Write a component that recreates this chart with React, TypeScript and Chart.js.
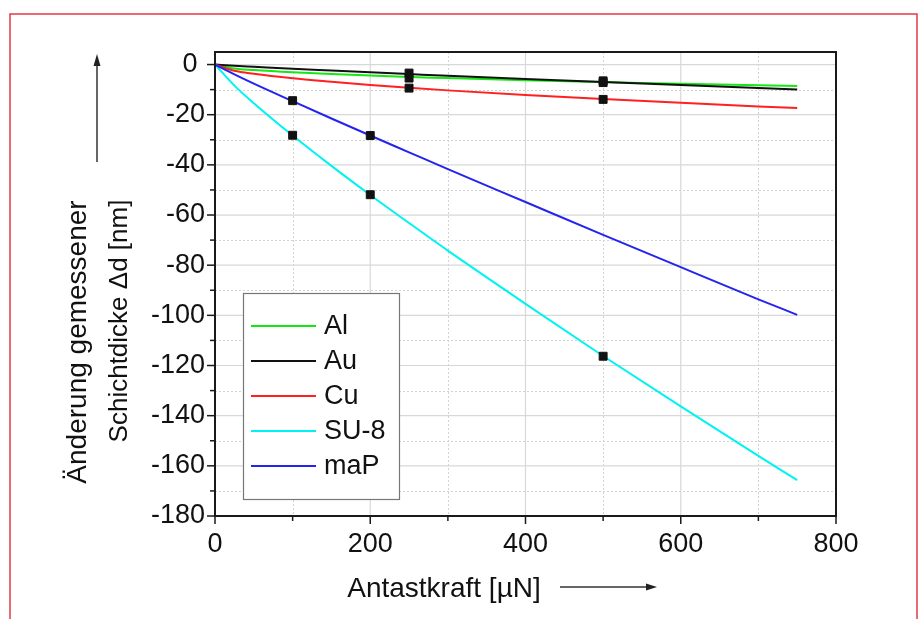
import React, { useEffect, useRef } from "react";
import { Chart, registerables } from "chart.js";

Chart.register(...registerables);

// ---- data ----
const fitForce = [0, 25, 50, 100, 150, 200, 250, 300, 400, 500, 600, 700, 750];
const alValues = [0, -1.6, -2.2, -3.1, -3.8, -4.4, -5.0, -5.4, -6.3, -7.0, -7.7, -8.3, -8.6];
const auValues = [0, -0.5, -0.9, -1.7, -2.4, -3.1, -3.8, -4.5, -5.8, -7.0, -8.2, -9.4, -10.0];
const cuValues = [0, -2.5, -3.7, -5.5, -6.9, -8.2, -9.3, -10.3, -12.1, -13.7, -15.2, -16.7, -17.3];
const su8Values = [0, -8.4, -15.4, -28.3, -40.4, -52.0, -63.2, -74.2, -95.4, -116.2, -136.3, -156.0, -165.7];
const mapValues = [0, -3.9, -7.6, -14.6, -21.5, -28.3, -35.0, -41.7, -54.8, -67.9, -80.8, -93.6, -99.8];

const measuredForce = [100, 100, 200, 200, 250, 250, 250, 500, 500, 500, 500];
const measuredDelta = [-14.4, -28.2, -28.3, -51.9, -3.4, -5.4, -9.4, -6.5, -7.2, -13.9, -116.3];

const seriesNames = ["Al", "Au", "Cu", "SU-8", "maP"];
const seriesValues = [alValues, auValues, cuValues, su8Values, mapValues];
const seriesColors = ["#12e812", "#111111", "#ff2020", "#00f2f2", "#2424ee"];

const xTicks = [0, 200, 400, 600, 800];
const yTicks = [0, -20, -40, -60, -80, -100, -120, -140, -160, -180];

const xTitle = "Antastkraft [µN]";
const yTitleLine1 = "Änderung gemessener";
const yTitleLine2 = "Schichtdicke Δd [nm]";

const FONT = "'Liberation Sans', Arial, Helvetica, sans-serif";

const decorPlugin = {
  id: "decor",
  beforeDraw(chart: any) {
    const ctx = chart.ctx;
    ctx.save();
    ctx.strokeStyle = "#e23a46";
    ctx.lineWidth = 1.5;
    ctx.strokeRect(10, 14, 907, 700);
    ctx.restore();
  },
  beforeDatasetsDraw(chart: any) {
    const ctx = chart.ctx;
    const { left, right, top, bottom } = chart.chartArea;
    const xs = chart.scales.x;
    const ys = chart.scales.y;
    const xv = xs.ticks.map((t: any) => t.value);
    const yv = ys.ticks.map((t: any) => t.value).sort((a: number, b: number) => a - b);
    ctx.save();
    // minor (dotted)
    ctx.strokeStyle = "#d2d2d2";
    ctx.lineWidth = 1;
    ctx.setLineDash([2, 2]);
    for (let i = 0; i < xv.length - 1; i++) {
      const p = Math.round(xs.getPixelForValue((xv[i] + xv[i + 1]) / 2)) + 0.5;
      ctx.beginPath(); ctx.moveTo(p, top); ctx.lineTo(p, bottom); ctx.stroke();
    }
    for (let i = 0; i < yv.length - 1; i++) {
      const p = Math.round(ys.getPixelForValue((yv[i] + yv[i + 1]) / 2)) + 0.5;
      ctx.beginPath(); ctx.moveTo(left, p); ctx.lineTo(right, p); ctx.stroke();
    }
    // major (solid)
    ctx.setLineDash([]);
    ctx.strokeStyle = "#d8d8d8";
    ctx.lineWidth = 1.2;
    xv.forEach((v: number) => {
      const p = xs.getPixelForValue(v);
      if (p <= left + 1 || p >= right - 1) return;
      ctx.beginPath(); ctx.moveTo(p, top); ctx.lineTo(p, bottom); ctx.stroke();
    });
    yv.forEach((v: number) => {
      const p = ys.getPixelForValue(v);
      if (p <= top + 1 || p >= bottom - 1) return;
      ctx.beginPath(); ctx.moveTo(left, p); ctx.lineTo(right, p); ctx.stroke();
    });
    ctx.restore();
  },
  afterDatasetsDraw(chart: any) {
    const ctx = chart.ctx;
    const { left, right, top, bottom } = chart.chartArea;
    const xs = chart.scales.x;
    const ys = chart.scales.y;
    const xv = xs.ticks.map((t: any) => t.value);
    const yv = ys.ticks.map((t: any) => t.value).sort((a: number, b: number) => a - b);
    ctx.save();
    // frame
    ctx.strokeStyle = "#1a1a1a";
    ctx.lineWidth = 2;
    ctx.strokeRect(left, top, right - left, bottom - top);
    // ticks
    ctx.lineWidth = 1.5;
    xv.forEach((v: number, i: number) => {
      const p = xs.getPixelForValue(v);
      ctx.beginPath(); ctx.moveTo(p, bottom); ctx.lineTo(p, bottom + 8); ctx.stroke();
      if (i < xv.length - 1) {
        const m = xs.getPixelForValue((v + xv[i + 1]) / 2);
        ctx.beginPath(); ctx.moveTo(m, bottom); ctx.lineTo(m, bottom + 5); ctx.stroke();
      }
    });
    yv.forEach((v: number, i: number) => {
      const p = ys.getPixelForValue(v);
      ctx.beginPath(); ctx.moveTo(left, p); ctx.lineTo(left - 8, p); ctx.stroke();
      if (i < yv.length - 1) {
        const m = ys.getPixelForValue((v + yv[i + 1]) / 2);
        ctx.beginPath(); ctx.moveTo(left, m); ctx.lineTo(left - 5, m); ctx.stroke();
      }
    });

    // legend
    const lx = 243, ly = 293, lw = 156, lh = 206;
    ctx.fillStyle = "#ffffff";
    ctx.fillRect(lx, ly, lw, lh);
    ctx.strokeStyle = "#777777";
    ctx.lineWidth = 1.2;
    ctx.strokeRect(lx + 0.5, ly + 0.5, lw, lh);
    const lineDs = chart.data.datasets.filter((d: any) => d.type === "line");
    ctx.font = `27px ${FONT}`;
    ctx.textBaseline = "middle";
    ctx.textAlign = "left";
    lineDs.forEach((d: any, i: number) => {
      const y = 326 + i * 35;
      ctx.strokeStyle = d.borderColor;
      ctx.lineWidth = 2.2;
      ctx.beginPath(); ctx.moveTo(251, y); ctx.lineTo(316, y); ctx.stroke();
      ctx.fillStyle = "#111";
      ctx.fillText(d.label, 324, y + 1);
    });
    ctx.restore();
  },
  afterDraw(chart: any) {
    const ctx = chart.ctx;
    ctx.save();
    ctx.fillStyle = "#111";
    ctx.font = `28px ${FONT}`;
    ctx.textBaseline = "alphabetic";
    ctx.textAlign = "center";
    // x title
    ctx.fillText(xTitle, 444, 597);
    // y title (two lines, rotated)
    ctx.save();
    ctx.translate(86, 342);
    ctx.rotate(-Math.PI / 2);
    ctx.fillText(yTitleLine1, 0, 0);
    ctx.restore();
    ctx.save();
    ctx.font = `26px ${FONT}`;
    ctx.translate(127, 321);
    ctx.rotate(-Math.PI / 2);
    ctx.fillText(yTitleLine2, 0, 0);
    ctx.restore();

    // arrows
    ctx.strokeStyle = "#333";
    ctx.fillStyle = "#222";
    ctx.lineWidth = 1.5;
    // x arrow
    ctx.beginPath(); ctx.moveTo(560, 587); ctx.lineTo(648, 587); ctx.stroke();
    ctx.beginPath(); ctx.moveTo(657, 587); ctx.lineTo(646, 583.5); ctx.lineTo(646, 590.5); ctx.closePath(); ctx.fill();
    // y arrow
    ctx.beginPath(); ctx.moveTo(97, 162); ctx.lineTo(97, 64); ctx.stroke();
    ctx.beginPath(); ctx.moveTo(97, 54); ctx.lineTo(93.5, 66); ctx.lineTo(100.5, 66); ctx.closePath(); ctx.fill();
    ctx.restore();
  },
};

export default function App() {
  const canvasRef = useRef<HTMLCanvasElement | null>(null);

  useEffect(() => {
    if (!canvasRef.current) return;
    const datasets: any[] = seriesNames.map((name, i) => ({
      type: "line",
      label: name,
      order: 5 - i,
      data: fitForce.map((x, j) => ({ x, y: seriesValues[i][j] })),
      borderColor: seriesColors[i],
      backgroundColor: seriesColors[i],
      borderWidth: 2,
      pointRadius: 0,
      cubicInterpolationMode: "monotone",
      fill: false,
    }));
    datasets.push({
      type: "scatter",
      label: "Messwerte",
      order: -1,
      data: measuredForce.map((x, j) => ({ x, y: measuredDelta[j] })),
      pointStyle: "rect",
      pointRadius: 5.6,
      pointBackgroundColor: "#111",
      pointBorderColor: "#111",
      pointBorderWidth: 1,
      showLine: false,
    });

    const chart = new Chart(canvasRef.current, {
      type: "scatter",
      data: { datasets },
      options: {
        animation: false,
        responsive: false,
        devicePixelRatio: 1,
        layout: { padding: { left: 0, top: 52, right: 84, bottom: 0 } },
        plugins: { legend: { display: false }, tooltip: { enabled: false }, title: { display: false } },
        scales: {
          x: {
            type: "linear",
            min: 0,
            max: 800,
            grid: { display: false, drawTicks: false },
            border: { display: false },
            afterBuildTicks: (s: any) => { s.ticks = xTicks.map((v) => ({ value: v })); },
            afterFit: (s: any) => { s.height = 103; },
            ticks: {
              autoSkip: false,
              maxRotation: 0,
              padding: 12,
              color: "#111",
              font: { family: FONT, size: 27 },
            },
          },
          y: {
            type: "linear",
            min: -180,
            max: 5,
            grid: { display: false, drawTicks: false },
            border: { display: false },
            afterBuildTicks: (s: any) => { s.ticks = yTicks.map((v) => ({ value: v })); },
            afterFit: (s: any) => { s.width = 215; },
            ticks: {
              autoSkip: false,
              padding: 10,
              color: "#111",
              font: { family: FONT, size: 27 },
              callback: (v: any) => (Number(v) === 0 ? "0 " : String(v)),
            },
          },
        },
      },
      plugins: [decorPlugin],
    } as any);
    return () => chart.destroy();
  }, []);

  return (
    <div style={{ position: "fixed", left: 0, top: 0, width: 920, height: 619, background: "#fff" }}>
      <canvas ref={canvasRef} width={920} height={619} />
    </div>
  );
}
